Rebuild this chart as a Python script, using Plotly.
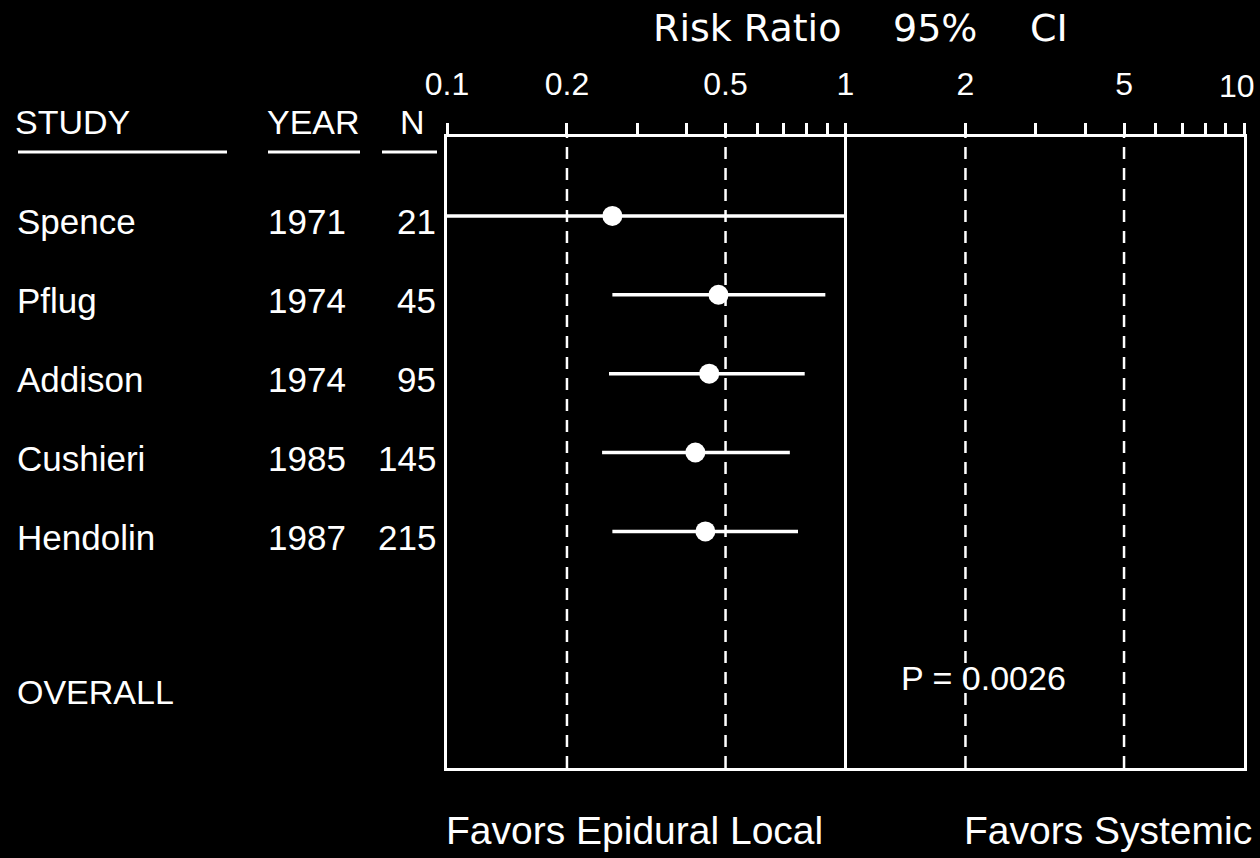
import plotly.graph_objects as go

# ---- data ----
studies = ["Spence", "Pflug", "Addison", "Cushieri", "Hendolin"]
years = ["1971", "1974", "1974", "1985", "1987"]
ns = ["21", "45", "95", "145", "215"]
rr = [0.26, 0.48, 0.455, 0.42, 0.445]
ci_low = [0.1, 0.26, 0.255, 0.245, 0.26]
ci_high = [1.0, 0.89, 0.79, 0.725, 0.76]
ref_dashed = [0.2, 0.5, 2, 5]
ref_solid = [1]
tick_vals = [0.1, 0.2, 0.3, 0.4, 0.5, 0.6, 0.7, 0.8, 0.9, 1, 2, 3, 4, 5, 6, 7, 8, 9, 10]
tick_labels = {0.1: "0.1", 0.2: "0.2", 0.5: "0.5", 1: "1", 2: "2", 5: "5"}
last_tick_label = "10"
overall_label = "OVERALL"
p_text = "P = 0.0026"

W, H = 1260, 858
# plot box in page pixels: x 447..1244, y 137..768
L, T = 447, 137
R, B = W - 1244, H - 768
PW, PH = W - L - R, H - T - B
FONT = "Liberation Sans, Arial, sans-serif"


def xp(px):
    return (px - L) / PW


def yp(py):
    return (H - B - py) / PH


fig = go.Figure()

# CI lines
for i in range(len(studies)):
    fig.add_trace(go.Scatter(
        x=[ci_low[i], ci_high[i]], y=[i, i], mode="lines",
        line=dict(color="white", width=3.5), hoverinfo="skip", showlegend=False))

# point estimates
fig.add_trace(go.Scatter(
    x=rr, y=list(range(len(studies))), mode="markers",
    marker=dict(color="white", size=20, line=dict(width=0)), showlegend=False))

shapes = []
for v in ref_dashed:
    shapes.append(dict(type="line", xref="x", yref="paper", x0=v, x1=v, y0=0, y1=1,
                       line=dict(color="white", width=2.5, dash="12px,9px"), layer="below"))
for v in ref_solid:
    shapes.append(dict(type="line", xref="x", yref="paper", x0=v, x1=v, y0=0, y1=1,
                       line=dict(color="white", width=3), layer="below"))

# header underlines
for x0, x1 in [(18, 227), (268, 360), (382, 437)]:
    shapes.append(dict(type="line", xref="paper", yref="paper",
                       x0=xp(x0), x1=xp(x1), y0=yp(152), y1=yp(152),
                       line=dict(color="white", width=3)))

annotations = []


def txt(text, px, py, size, xanchor="left", family=FONT):
    annotations.append(dict(text=text, xref="paper", yref="paper", x=xp(px), y=yp(py),
                            xanchor=xanchor, yanchor="middle", showarrow=False,
                            font=dict(size=size, color="white", family=family)))


# headers
txt("STUDY", 13, 122, 34)
txt("YEAR", 265, 122, 34)
txt("N", 412, 122, 34, "center")

# rows
ROWF = 35
for i in range(len(studies)):
    annotations.append(dict(text=studies[i], xref="paper", yref="y", x=xp(15), y=i, yshift=-6,
                            xanchor="left", yanchor="middle", showarrow=False,
                            font=dict(size=ROWF, color="white", family=FONT)))
    annotations.append(dict(text=years[i], xref="paper", yref="y", x=xp(266), y=i, yshift=-6,
                            xanchor="left", yanchor="middle", showarrow=False,
                            font=dict(size=ROWF, color="white", family=FONT)))
    annotations.append(dict(text=ns[i], xref="paper", yref="y", x=xp(438), y=i, yshift=-6,
                            xanchor="right", yanchor="middle", showarrow=False,
                            font=dict(size=ROWF, color="white", family=FONT)))
annotations.append(dict(text=overall_label, xref="paper", yref="y", x=xp(15), y=6, yshift=-3,
                        xanchor="left", yanchor="middle", showarrow=False,
                        font=dict(size=34, color="white", family=FONT)))

txt(p_text, 899, 678, 34)

# last tick label (kept inside the page edge)
txt(last_tick_label, 1257, 86, 32, "right")

# bottom labels
txt("Favors Epidural Local", 444, 830, 39)
txt("Favors Systemic", 1254, 830, 39, "right")

# title
TF = "DejaVu Sans, Liberation Sans, sans-serif"
txt("Risk Ratio", 747, 28, 38, "center", TF)
txt("95%", 935, 28, 38, "center", TF)
txt("CI", 1049, 28, 38, "center", TF)

fig.update_layout(
    width=W, height=H, autosize=False,
    margin=dict(l=L, r=R, t=T, b=B, pad=0),
    paper_bgcolor="black", plot_bgcolor="black",
    shapes=shapes, annotations=annotations, showlegend=False,
    xaxis=dict(type="log", range=[-1, 1], side="top",
               showline=True, linecolor="white", linewidth=3, mirror=True,
               ticks="outside", ticklen=11, tickwidth=2.5, tickcolor="white",
               tickvals=tick_vals,
               ticktext=[tick_labels.get(v, "") for v in tick_vals],
               tickfont=dict(size=32, color="white", family=FONT),
               ticklabelstandoff=15,
               showgrid=False, zeroline=False, fixedrange=True),
    yaxis=dict(range=[7, -1], showline=True, linecolor="white", linewidth=3, mirror=True,
               showticklabels=False, ticks="", showgrid=False, zeroline=False, fixedrange=True),
)

fig.write_html(
    "out.html", config={"displayModeBar": False},
    post_script=("document.documentElement.style.background='black';"
                 "document.body.style.background='black';"
                 "document.body.style.margin='0';"
                 "document.documentElement.style.overflow='hidden';"
                 "document.body.style.overflow='hidden';"))
